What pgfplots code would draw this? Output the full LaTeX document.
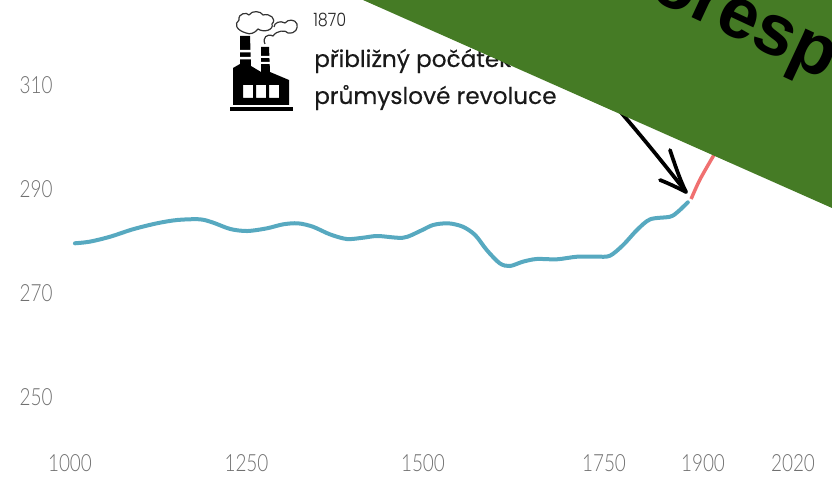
\documentclass[border=0pt]{standalone}
\usepackage{fontspec}
\setmainfont{Lato Light}
\newfontfamily\annfont[FakeBold=0.35]{Poppins}
\newfontfamily\annthin{Poppins Light}
\newfontfamily\banfont{Liberation Sans}
\usepackage{pgfplots}
\pgfplotsset{compat=1.18}
\definecolor{teal1}{HTML}{57A9C0}
\definecolor{red1}{HTML}{F07070}
\definecolor{ban}{HTML}{457B25}
\definecolor{tk}{HTML}{707070}
\pgfplotstableread{
year ppm
1007 279.56
1028 279.87
1057 280.83
1089 282.25
1123 283.40
1152 284.04
1184 284.17
1203 283.52
1227 282.31
1251 281.92
1279 282.44
1302 283.21
1323 283.40
1344 282.75
1368 281.29
1392 280.38
1415 280.63
1436 280.96
1472 280.63
1496 281.92
1514 283.08
1535 283.40
1555 282.75
1572 281.15
1588 278.27
1606 275.71
1620 275.19
1638 276.02
1657 276.54
1685 276.48
1713 276.98
1740 276.98
1759 277.17
1779 279.23
1800 282.12
1820 284.17
1850 284.67
1862 285.63
1877 287.44
}\preind
\pgfplotstableread{
year ppm
1882 288.08
1895 291.73
1913 296.15
1923 298.46
}\postind
\begin{document}
\begin{tikzpicture}
\useasboundingbox (0,0) rectangle (624pt,363pt);
\begin{axis}[
  at={(45pt,29.25pt)},anchor=south west,
  scale only axis,width=579pt,height=333.75pt,
  x coord trafo/.code={\pgfmathparse{#1<=1500 ? 70+.706*(#1-1000) : (#1<=1750 ? 423+.724*(#1-1500) : (#1<=1900 ? 604+.66*(#1-1750) : 703+.75*(#1-1900)))}},
  xmin=985.84,xmax=2072,ymin=240.77,ymax=326.35,
  axis line style={draw=none},tick style={draw=none},
  xtick={1000,1250,1500,1750,1900,2020},
  xticklabels={1000,1250,1500,1750,1900,2020},
  ytick={250,270,290,310},
  yticklabels={250,270,290,310},
  tick label style={font=\fontsize{14.2pt}{16pt}\selectfont,text=tk,yscale=1.25},
  xticklabel style={yshift=-2pt},
  yticklabel style={xshift=-2pt},
]
\addplot[teal1,line width=3pt,smooth,line cap=round] table[x=year,y=ppm]{\preind};
\addplot[red1,line width=2.6pt,smooth] table[x=year,y=ppm]{\postind};
\end{axis}
\begin{scope}[x=0.75pt,y=-0.75pt,yshift=363pt]
 % annotation text
 \node[anchor=base west,inner sep=0,text=black!85,yscale=1.15] at (313,27) {\annthin\fontsize{12pt}{14pt}\selectfont 1870};
 \node[anchor=base west,inner sep=0,text=black!90] at (314,67) {\annfont\fontsize{17.4pt}{20pt}\selectfont přibližný počátek};
 \node[anchor=base west,inner sep=0,text=black!90] at (314,104) {\annfont\fontsize{17.4pt}{20pt}\selectfont průmyslové revoluce};
 % factory icon
 \fill[black] (230,107) rectangle (293,111);
 \fill[black,even odd rule] (233,105) -- (233,68) -- (240,64) -- (240,36) -- (250,36) -- (251,66) -- (261,72) -- (261,47) -- (269,47) -- (270,72) -- (289,80) -- (289,105) -- cycle
   (243,85) rectangle (253,98) (256,85) rectangle (266,98) (269,85) rectangle (279,98);
 \fill[white] (239,50) rectangle (251,52.5) (239,57) rectangle (251,59.5) (260,56) rectangle (270,58) (260,62) rectangle (270,64);
 \draw[black!80,line width=0.9pt,line join=round] (246,33) .. controls (236,30) and (234,24) .. (239,20)
   .. controls (238,13) and (247,12) .. (249,15) .. controls (252,10) and (261,11) .. (263,15)
   .. controls (270,13) and (277,19) .. (272,24) .. controls (274,30) and (264,33) .. (258,29)
   .. controls (255,33) and (250,35) .. (246,33);
 \draw[black!80,line width=0.9pt,line join=round] (265,44) .. controls (262,38) and (267,33) .. (273,36)
   .. controls (277,30) and (286,30) .. (288,33) .. controls (296,34) and (298,28) .. (297,24)
   .. controls (295,19) and (288,19) .. (285,23) .. controls (280,20) and (274,23) .. (274,27);
 % arrow
 \draw[black,line width=2.8pt,line cap=round] (610,100) .. controls (635,128) and (665,165) .. (686,192);
 \draw[black,line width=2.8pt,line cap=round,line join=round] (670,150) .. controls (675,165) and (680,180) .. (686,192) .. controls (678,188) and (670,184) .. (660,180);
 % banner
 \fill[ban] (363,0) -- (832,208) -- (832,0) -- cycle;
 \begin{scope}
 \clip (0,0) rectangle (832,484);
 \node[rotate=-25,anchor=base west,inner sep=0,text=black] at (647,-3) {\banfont\bfseries\fontsize{54pt}{56pt}\selectfont oresp};
 \end{scope}
\end{scope}
\end{tikzpicture}
\end{document}
